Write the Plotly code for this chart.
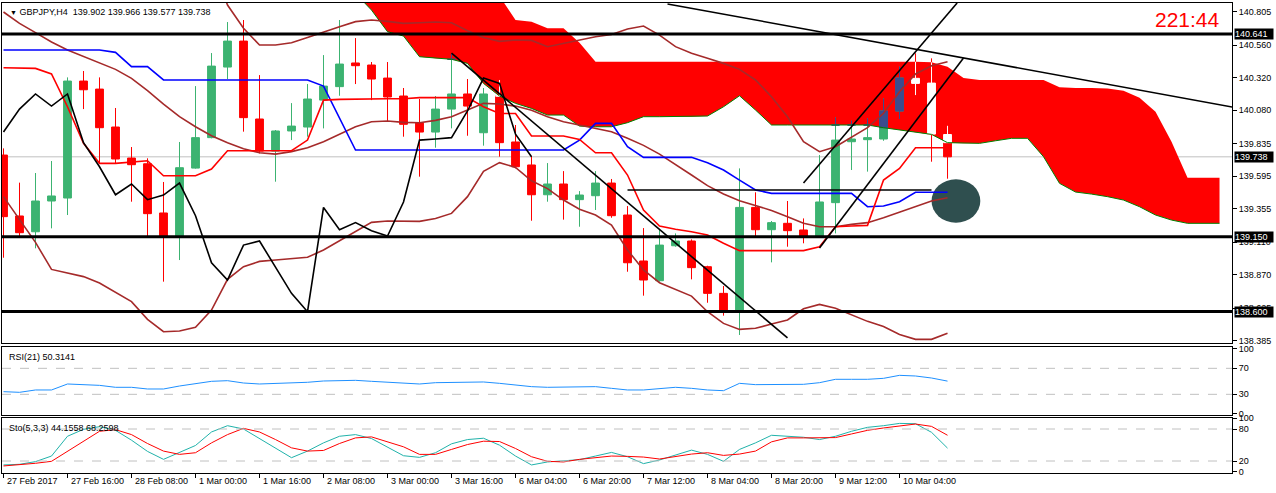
import plotly.graph_objects as go
from plotly.subplots import make_subplots

# H4 bars, index 0 = 27 Feb 2017 00:00
tick_bars = [0, 4, 8, 12, 16, 20, 24, 28, 32, 36, 40, 44, 48, 52, 56]
tick_labels = ["27 Feb 2017", "27 Feb 16:00", "28 Feb 08:00", "1 Mar 00:00", "1 Mar 16:00",
               "2 Mar 08:00", "3 Mar 00:00", "3 Mar 16:00", "6 Mar 04:00", "6 Mar 20:00",
               "7 Mar 12:00", "8 Mar 04:00", "8 Mar 20:00", "9 Mar 12:00", "10 Mar 04:00"]

opens = [139.751, 139.303, 139.187, 139.413, 139.435, 140.295, 140.236, 139.957, 139.729, 139.687,
         139.325, 139.151, 139.655, 139.879, 140.398, 140.589, 140.016, 139.780, 139.928, 139.957,
         140.155, 140.254, 140.428, 140.413, 140.317, 140.185, 139.986, 139.920, 140.089, 140.200,
         139.915, 140.187, 139.847, 139.678, 139.459, 139.538, 139.423, 139.452, 139.545, 139.310,
         138.972, 138.827, 139.084, 139.119, 138.930, 138.734, 138.599, 139.366, 139.202, 139.249,
         139.200, 139.151, 139.401, 139.849, 139.864, 139.869, 140.075, 140.315, 140.280, 139.902]
highs = [139.800, 139.548, 139.619, 139.707, 140.322, 140.369, 140.322, 140.097, 139.810, 139.727,
         139.553, 139.847, 140.258, 140.501, 140.729, 140.744, 140.339, 139.935, 140.133, 140.273,
         140.486, 140.744, 140.611, 140.435, 140.435, 140.244, 140.163, 140.185, 140.494, 140.310,
         140.244, 140.303, 139.972, 139.744, 139.692, 139.633, 139.486, 139.633, 139.575, 139.376,
         139.214, 139.200, 139.175, 139.131, 138.937, 138.788, 139.653, 139.477, 139.266, 139.413,
         139.285, 139.751, 140.028, 140.004, 140.021, 140.168, 140.401, 140.499, 140.462, 139.966]
lows = [138.996, 139.151, 139.065, 139.212, 139.310, 140.089, 139.690, 139.690, 139.408, 139.151,
        138.820, 138.979, 139.651, 139.874, 140.310, 139.923, 139.763, 139.555, 139.861, 139.886,
        139.947, 140.187, 140.273, 140.155, 139.996, 139.886, 139.592, 139.805, 139.947, 139.893,
        139.820, 139.739, 139.653, 139.268, 139.408, 139.276, 139.224, 139.347, 139.290, 138.893,
        138.717, 138.820, 139.077, 138.837, 138.665, 138.570, 138.428, 139.151, 138.962, 139.077,
        139.102, 139.146, 139.175, 139.641, 139.629, 139.856, 140.016, 140.192, 139.702, 139.577]
closes = [139.298, 139.180, 139.413, 139.450, 140.295, 140.231, 139.952, 139.722, 139.680, 139.320,
          139.151, 139.658, 139.879, 140.405, 140.589, 140.026, 139.780, 139.928, 139.964, 140.163,
          140.258, 140.420, 140.408, 140.310, 140.178, 139.977, 139.920, 140.089, 140.200, 140.111,
          140.200, 139.842, 139.665, 139.459, 139.538, 139.423, 139.457, 139.545, 139.305, 138.959,
          138.832, 139.089, 139.119, 138.923, 138.734, 138.599, 139.366, 139.202, 139.254, 139.195,
          139.156, 139.406, 139.861, 139.869, 139.879, 140.075, 140.317, 140.278, 139.905, 139.738]

tenkan = [140.393, 140.393, 140.388, 140.347, 140.106, 139.837, 139.690, 139.690, 139.697, 139.709,
          139.599, 139.599, 139.599, 139.648, 139.783, 139.783, 139.783, 139.783, 139.783, 139.861,
          140.155, 140.160, 140.163, 140.165, 140.165, 140.165, 140.173, 140.173, 140.173, 140.173,
          140.106, 140.057, 140.057, 139.891, 139.891, 139.891, 139.866, 139.768, 139.768, 139.604,
          139.347, 139.229, 139.205, 139.187, 139.163, 139.102, 139.048, 139.048, 139.048, 139.048,
          139.048, 139.077, 139.224, 139.229, 139.234, 139.567, 139.653, 139.805, 139.805, 139.805]
kijun = [140.523, 140.523, 140.523, 140.523, 140.523, 140.523, 140.523, 140.506, 140.401, 140.401,
         140.303, 140.303, 140.303, 140.303, 140.303, 140.303, 140.303, 140.303, 140.303, 140.303,
         140.258, 140.021, 139.788, 139.788, 139.788, 139.788, 139.788, 139.788, 139.788, 139.788,
         139.788, 139.788, 139.788, 139.788, 139.788, 139.788, 139.861, 139.984, 139.984, 139.812,
         139.734, 139.734, 139.734, 139.734, 139.695, 139.641, 139.567, 139.494, 139.469, 139.469,
         139.469, 139.469, 139.469, 139.469, 139.371, 139.376, 139.408, 139.477, 139.477, 139.477]

bb_upper = [142.160, 142.165, 142.192, 142.254, 142.160, 142.092, 142.045, 142.023, 141.957, 141.906,
            141.800, 141.609, 141.435, 141.175, 140.854, 140.683, 140.560, 140.560, 140.577, 140.616,
            140.658, 140.695, 140.732, 140.744, 140.734, 140.719, 140.724, 140.729, 140.724, 140.665,
            140.616, 140.587, 140.597, 140.594, 140.548, 140.572, 140.597, 140.621, 140.638, 140.678,
            140.700, 140.633, 140.548, 140.499, 140.462, 140.425, 140.381, 140.303, 140.180, 140.033,
            139.849, 139.776, 139.812, 139.881, 139.952, 140.058, 140.217, 140.347, 140.408, 140.437]
bb_mid = [140.803, 140.719, 140.651, 140.582, 140.523, 140.474, 140.428, 140.381, 140.315, 140.224,
          140.126, 140.033, 139.959, 139.893, 139.842, 139.798, 139.768, 139.758, 139.776, 139.805,
          139.849, 139.906, 139.959, 139.996, 140.001, 139.991, 139.989, 140.006, 140.033, 140.082,
          140.131, 140.126, 140.111, 140.080, 140.033, 139.996, 139.972, 139.947, 139.923, 139.874,
          139.822, 139.758, 139.678, 139.604, 139.526, 139.464, 139.415, 139.379, 139.344, 139.298,
          139.249, 139.224, 139.224, 139.241, 139.254, 139.290, 139.330, 139.371, 139.413, 139.437]
bb_lower = [139.445, 139.273, 139.109, 138.910, 138.886, 138.857, 138.810, 138.739, 138.673, 138.543,
            138.452, 138.457, 138.484, 138.611, 138.837, 138.930, 138.969, 138.979, 138.991, 138.999,
            139.053, 139.121, 139.183, 139.256, 139.266, 139.263, 139.263, 139.285, 139.322, 139.445,
            139.631, 139.695, 139.660, 139.562, 139.504, 139.420, 139.352, 139.310, 139.236, 139.053,
            138.906, 138.812, 138.763, 138.714, 138.599, 138.513, 138.469, 138.477, 138.508, 138.538,
            138.621, 138.653, 138.624, 138.577, 138.528, 138.491, 138.432, 138.396, 138.396, 138.440]

# Ichimoku cloud, bars 22..76 (shifted forward)
cloud_start = 22
cloud_top = [141.000, 141.000, 141.000, 141.000, 141.000, 141.000, 141.000, 141.000, 141.000, 140.920,
             140.744, 140.731, 140.683, 140.683, 140.577, 140.437, 140.437, 140.437, 140.437, 140.437,
             140.437, 140.437, 140.437, 140.437, 140.437, 140.437, 140.437, 140.437, 140.437, 140.437,
             140.437, 140.437, 140.437, 140.437, 140.437, 140.437, 140.433, 140.401, 140.317, 140.303,
             140.303, 140.303, 140.303, 140.303, 140.249, 140.244, 140.244, 140.241, 140.224, 140.173,
             140.070, 139.849, 139.584, 139.584, 139.584]
cloud_bottom = [140.940, 140.817, 140.658, 140.626, 140.474, 140.462, 140.455, 140.425, 140.278, 140.185,
                140.131, 140.094, 140.045, 140.045, 139.964, 139.959, 139.959, 139.989, 140.033, 140.033,
                140.033, 140.033, 140.038, 140.106, 140.187, 140.082, 139.972, 139.972, 139.972, 139.972,
                139.972, 139.972, 139.972, 139.952, 139.935, 139.918, 139.903, 139.842, 139.837, 139.837,
                139.856, 139.874, 139.874, 139.739, 139.543, 139.479, 139.464, 139.445, 139.420, 139.371,
                139.310, 139.273, 139.249, 139.249, 139.249]

rsi = [34.1, 33.1, 36.7, 36.7, 45.9, 44.9, 43.8, 40.8, 40.8, 38.2,
       38.2, 42.8, 46.9, 50.0, 51.0, 47.4, 45.9, 46.4, 46.9, 48.5,
       50.5, 51.5, 51.5, 50.0, 48.5, 47.4, 45.9, 47.9, 48.5, 49.0,
       49.0, 46.9, 44.4, 41.8, 40.8, 40.8, 41.3, 41.8, 39.2, 36.7,
       36.7, 38.7, 40.8, 39.2, 36.7, 35.6, 46.9, 44.9, 45.4, 45.4,
       45.4, 47.9, 53.1, 53.1, 53.1, 54.6, 59.2, 58.2, 55.1, 50.3141]
sto_main = [12.6, 13.8, 18.8, 29.3, 66.4, 79.4, 84.3, 77.5, 59.0, 38.0,
            23.1, 35.5, 49.1, 74.4, 86.2, 80.0, 62.1, 44.7, 26.2, 38.6,
            54.0, 66.4, 69.5, 62.1, 46.6, 29.9, 26.8, 35.5, 52.2, 60.2,
            62.7, 49.7, 29.3, 12.6, 18.2, 20.6, 22.5, 29.3, 36.1, 28.0,
            15.1, 21.9, 31.8, 40.4, 32.4, 19.4, 41.7, 54.0, 68.2, 66.4,
            64.5, 60.2, 66.4, 75.7, 83.1, 86.2, 90.5, 89.9, 73.8, 44.1558]
sto_signal = [10.7, 12.6, 15.7, 19.4, 38.6, 56.5, 75.7, 78.8, 69.5, 52.8,
              38.6, 32.4, 35.5, 54.0, 69.5, 81.2, 74.4, 60.2, 44.7, 38.6,
              39.8, 52.8, 63.3, 65.2, 56.5, 46.6, 32.4, 32.4, 41.7, 50.9,
              57.1, 56.5, 43.5, 28.0, 19.4, 18.2, 23.1, 26.2, 29.3, 28.7,
              27.4, 23.7, 28.0, 33.0, 35.5, 30.5, 33.0, 38.6, 55.9, 63.3,
              63.3, 63.3, 63.9, 70.7, 77.5, 81.9, 86.2, 89.3, 84.9, 68.2598]

levels = [140.641, 139.150, 138.600]
price_ticks = [140.805, 140.560, 140.320, 140.080, 139.835, 139.595, 139.355, 139.110, 138.870, 138.625, 138.385]

# hand drawn objects (bar index, price)
trend_bars = [[41.5, 76.8], [28.0, 49.0], [50.0, 59.6], [51.0, 60.0], [39.0, 58.0]]
trend_prices = [[140.862, 140.104], [140.501, 138.406], [139.545, 140.869], [139.068, 140.465], [139.494, 139.494]]
ellipse_bars = [58.0, 61.05]
ellipse_prices = [139.253, 139.573]

GREEN = "#3CB371"
RED = "#FF0000"
BROWN = "#A52A2A"
FONT = "Liberation Sans"

bars = list(range(len(closes)))
cloud_x = list(range(cloud_start, cloud_start + len(cloud_top)))
chikou_n = len(closes) - 26

fig = make_subplots(rows=3, cols=1, shared_xaxes=True)

# cloud as a filled path under the candles (a scatter fill would sit above them)
pts = list(zip(cloud_x, cloud_top)) + list(zip(cloud_x[::-1], cloud_bottom[::-1]))
cloud_path = "M " + " L ".join(f"{x},{y}" for x, y in pts) + " Z"
fig.add_shape(type="path", path=cloud_path, xref="x", yref="y", fillcolor=RED,
              line_width=0, layer="below")
fig.add_hline(y=closes[-1], line=dict(color="#C0C0C0", width=1), row=1, col=1, layer="below")
fig.add_shape(type="circle", xref="x", yref="y", x0=ellipse_bars[0], x1=ellipse_bars[1],
              y0=ellipse_prices[0], y1=ellipse_prices[1], fillcolor="#2F4F4F", line_width=0,
              layer="below")

fig.add_trace(go.Candlestick(
    x=bars, open=opens, high=highs, low=lows, close=closes,
    increasing=dict(line=dict(color=GREEN, width=1), fillcolor=GREEN),
    decreasing=dict(line=dict(color=RED, width=1), fillcolor=RED),
    whiskerwidth=0), 1, 1)

# the terminal paints candles inside the cloud with inverted colours:
# bull candles turn dark blue, bear candles turn white
bull = {k: [] for k in "xohlc"}
bear = {k: [] for k in "xohlc"}
for i in bars:
    if i not in cloud_x:
        continue
    lo = cloud_bottom[i - cloud_start]
    hi = cloud_top[i - cloud_start]
    if highs[i] < lo or lows[i] > hi:
        continue
    part = bull if closes[i] >= opens[i] else bear
    part["x"].append(i)
    part["o"].append(min(max(opens[i], lo), hi))
    part["c"].append(min(max(closes[i], lo), hi))
    part["h"].append(min(highs[i], hi))
    part["l"].append(max(lows[i], lo))
for part, col in ((bull, "#3C4C8E"), (bear, "#FFFFFF")):
    fig.add_trace(go.Candlestick(
        x=part["x"], open=part["o"], high=part["h"], low=part["l"], close=part["c"],
        increasing=dict(line=dict(color=col, width=1), fillcolor=col),
        decreasing=dict(line=dict(color=col, width=1), fillcolor=col),
        whiskerwidth=0), 1, 1)

fig.add_trace(go.Scatter(x=cloud_x, y=cloud_bottom, mode="lines", line=dict(color="#008000", width=1)), 1, 1)

for ys in (bb_upper, bb_mid, bb_lower):
    fig.add_trace(go.Scatter(x=bars, y=ys, mode="lines", line=dict(color=BROWN, width=1.6)), 1, 1)
fig.add_trace(go.Scatter(x=bars, y=kijun, mode="lines", line=dict(color="#0000FF", width=1.6)), 1, 1)
fig.add_trace(go.Scatter(x=bars, y=tenkan, mode="lines", line=dict(color=RED, width=1.6)), 1, 1)
fig.add_trace(go.Scatter(x=bars[:chikou_n], y=closes[26:], mode="lines",
                         line=dict(color="black", width=1.6)), 1, 1)

for xs, ys in zip(trend_bars, trend_prices):
    fig.add_trace(go.Scatter(x=xs, y=ys, mode="lines", line=dict(color="black", width=1.6)), 1, 1)

for lv in levels:
    fig.add_hline(y=lv, line=dict(color="black", width=3), row=1, col=1)

# RSI
fig.add_trace(go.Scatter(x=bars, y=rsi, mode="lines", line=dict(color="#1E90FF", width=1)), 2, 1)
for lv in (70, 30):
    fig.add_hline(y=lv, line=dict(color="#C0C0C0", width=1, dash="dash"), row=2, col=1)

# Stochastic
fig.add_trace(go.Scatter(x=bars, y=sto_main, mode="lines", line=dict(color="#20B2AA", width=1)), 3, 1)
fig.add_trace(go.Scatter(x=bars, y=sto_signal, mode="lines", line=dict(color=RED, width=1)), 3, 1)
for lv in (80, 20):
    fig.add_hline(y=lv, line=dict(color="#C0C0C0", width=1, dash="dash"), row=3, col=1)

x_range = [-0.094, 76.78]
axis_common = dict(showline=True, mirror=True, linecolor="black", linewidth=1, showgrid=False,
                   zeroline=False, automargin=False)
fig.update_xaxes(range=x_range, rangeslider_visible=False, showticklabels=False, ticks="", **axis_common)
fig.update_xaxes(tickvals=tick_bars, ticks="outside", ticklen=4, tickcolor="black", row=3, col=1)
fig.update_yaxes(side="right", ticks="outside", ticklen=4, tickcolor="black",
                 tickfont=dict(size=9, color="black", family=FONT), **axis_common)

fig.update_layout(
    template="none",
    width=1276, height=493,
    margin=dict(l=2, r=44, t=3, b=20, autoexpand=False),
    paper_bgcolor="white", plot_bgcolor="white",
    showlegend=False,
    font=dict(family=FONT, size=9, color="black"),
    yaxis=dict(domain=[0.2766, 1.0], range=[138.369, 140.869], tickvals=price_ticks, tickformat=".3f"),
    yaxis2=dict(domain=[0.1234, 0.2681], range=[-1.8, 102.8], tickvals=[0, 30, 70, 100]),
    yaxis3=dict(domain=[0.0, 0.117], range=[-2.5, 100.6], tickvals=[0, 20, 80, 100]),
)

# time labels, left aligned at their tick like the terminal does
for b, lab in zip(tick_bars, tick_labels):
    fig.add_annotation(x=b, y=-0.017, xref="x3", yref="paper", text=lab, showarrow=False,
                       xanchor="left", yanchor="middle", xshift=1, font=dict(size=9, family=FONT))

# price boxes on the scale
for lv in levels + [closes[-1]]:
    fig.add_annotation(x=1, y=lv, xref="paper", yref="y", text=f"{lv:.3f}", showarrow=False,
                       xanchor="left", yanchor="middle", xshift=2, width=38, align="left",
                       bgcolor="black", borderpad=0, font=dict(size=9, color="white", family=FONT))

fig.add_annotation(x=0, y=1, xref="paper", yref="paper", xanchor="left", yanchor="top",
                   xshift=6, yshift=-2, showarrow=False,
                   text=f"<span style='font-size:7px'>▼</span> GBPJPY,H4  {opens[-1]:.3f} {highs[-1]:.3f} "
                        f"{lows[-1]:.3f} {closes[-1]:.3f}",
                   font=dict(size=9, family=FONT))
fig.add_annotation(x=0, y=1, xref="paper", yref="y2 domain", xanchor="left", yanchor="top",
                   xshift=5, yshift=-3, showarrow=False, text=f"RSI(21) {rsi[-1]:.4f}",
                   font=dict(size=9, family=FONT))
fig.add_annotation(x=0, y=1, xref="paper", yref="y3 domain", xanchor="left", yanchor="top",
                   xshift=5, yshift=-3, showarrow=False,
                   text=f"Sto(5,3,3) {sto_main[-1]:.4f} {sto_signal[-1]:.4f}",
                   font=dict(size=9, family=FONT))
fig.add_annotation(x=0.992, y=0.964, xref="paper", yref="paper", xanchor="right", yanchor="middle",
                   showarrow=False, text="221:44", font=dict(size=21, color=RED, family=FONT))

# the page margin would push the chart off its 1276x493 frame
fig.write_html("out.html", config={"displayModeBar": False},
               post_script="document.body.style.margin='0px';")
